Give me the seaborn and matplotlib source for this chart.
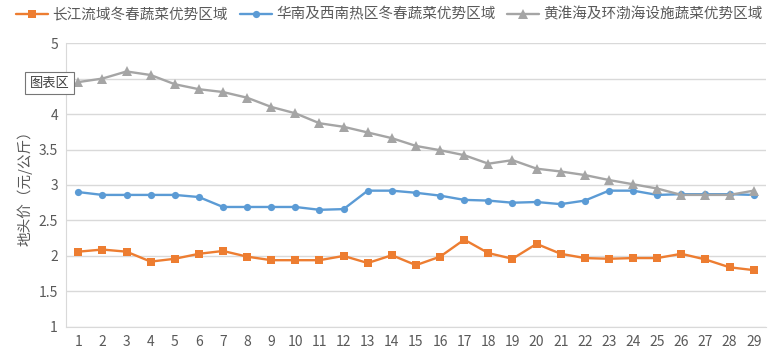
import matplotlib
matplotlib.use('Agg')
import matplotlib.pyplot as plt
import seaborn as sns
import pandas as pd

# data
weeks = list(range(1, 30))
changjiang = [2.06, 2.09, 2.06, 1.92, 1.96, 2.03, 2.07, 1.99, 1.94, 1.94,
              1.94, 2.00, 1.90, 2.01, 1.87, 1.99, 2.23, 2.04, 1.96, 2.17,
              2.03, 1.97, 1.96, 1.97, 1.97, 2.03, 1.95, 1.84, 1.80]
huanan = [2.90, 2.86, 2.86, 2.86, 2.86, 2.83, 2.69, 2.69, 2.69, 2.69,
          2.65, 2.66, 2.92, 2.92, 2.89, 2.85, 2.79, 2.78, 2.75, 2.76,
          2.73, 2.78, 2.92, 2.92, 2.86, 2.87, 2.87, 2.87, 2.86]
huanghuai = [4.45, 4.50, 4.60, 4.55, 4.42, 4.35, 4.31, 4.23, 4.10, 4.01,
             3.87, 3.82, 3.74, 3.66, 3.55, 3.49, 3.42, 3.30, 3.35, 3.23,
             3.19, 3.14, 3.07, 3.01, 2.95, 2.86, 2.86, 2.86, 2.92]
names = ['长江流域冬春蔬菜优势区域', '华南及西南热区冬春蔬菜优势区域', '黄淮海及环渤海设施蔬菜优势区域']
yticks = [1, 1.5, 2, 2.5, 3, 3.5, 4, 4.5, 5]
# 4.5 is hidden behind the Excel tooltip in the reference
ytick_labels = ['1', '1.5', '2', '2.5', '3', '3.5', '4', '', '5']

df = pd.concat([
    pd.DataFrame({'week': weeks, 'price': changjiang, 'region': names[0]}),
    pd.DataFrame({'week': weeks, 'price': huanan, 'region': names[1]}),
    pd.DataFrame({'week': weeks, 'price': huanghuai, 'region': names[2]}),
])

sns.set_style('white')
plt.rcParams['font.family'] = ['Noto Sans CJK SC', 'DejaVu Sans']

colors = {names[0]: '#ED7D31', names[1]: '#5B9BD5', names[2]: '#A5A5A5'}
markers = {names[0]: 's', names[1]: 'o', names[2]: '^'}
msize = {names[0]: 6, names[1]: 5.2, names[2]: 6.5}

fig = plt.figure(figsize=(7.79, 3.62), dpi=100)
ax = fig.add_axes([0.085, 0.097, 0.898, 0.784])

for n in names:
    sns.lineplot(data=df[df.region == n], x='week', y='price', ax=ax,
                 color=colors[n], marker=markers[n], markersize=msize[n],
                 markeredgewidth=0, linewidth=1.7, label=n)

ax.set_xlim(0.5, 29.5)
ax.set_ylim(1, 5)
ax.set_xticks(weeks)
ax.set_yticks(yticks)
ax.set_yticklabels(ytick_labels)
ax.grid(axis='y', color='#D9D9D9', linewidth=1)
ax.set_axisbelow(True)
for s in ['top', 'right']:
    ax.spines[s].set_visible(False)
for s in ['left', 'bottom']:
    ax.spines[s].set_color('#D9D9D9')
ax.tick_params(axis='both', length=0, labelsize=10, colors='#595959', pad=6)
ax.set_xlabel('')
ax.set_ylabel('地头价（元/公斤）', fontsize=10.5, color='#595959', labelpad=4)

ax.legend(loc='center', bbox_to_anchor=(0.462, 1.1), ncol=3, frameon=False,
          fontsize=10.5, handlelength=2.2, handletextpad=0.3, columnspacing=0.8,
          labelcolor='#595959')

# Excel hover tooltip visible in the reference
fig.text(0.064, 0.770, '图表区', fontsize=9.5, color='#404040', ha='center', va='center',
         bbox=dict(boxstyle='square,pad=0.35', facecolor='white', edgecolor='#767676',
                   linewidth=0.8))

fig.savefig('out.png', dpi=100)
